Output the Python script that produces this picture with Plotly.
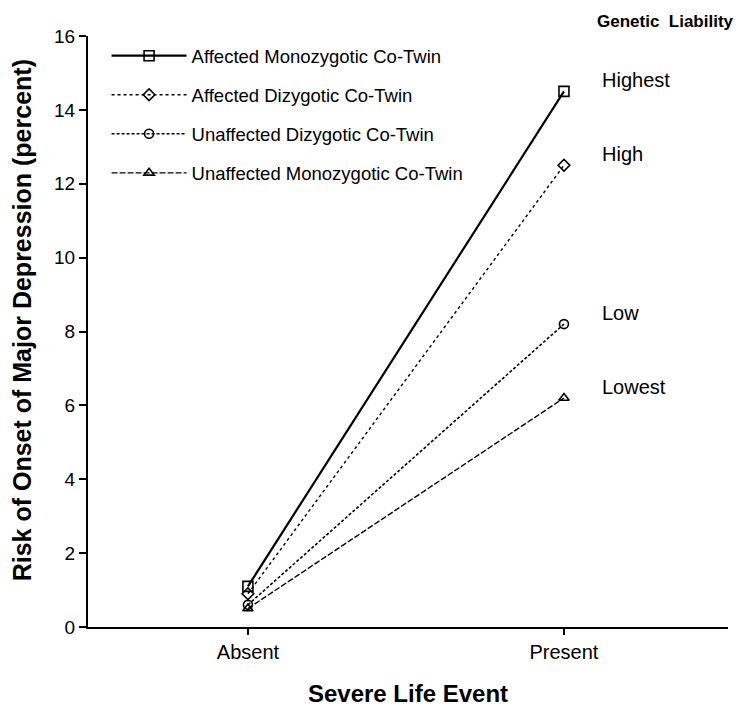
import plotly.graph_objects as go

# ---- data ----
categories = ["Absent", "Present"]
series_names = [
    "Affected Monozygotic Co-Twin",
    "Affected Dizygotic Co-Twin",
    "Unaffected Dizygotic Co-Twin",
    "Unaffected Monozygotic Co-Twin",
]
aff_mz = [1.1, 14.5]
aff_dz = [0.9, 12.5]
unaff_dz = [0.6, 8.2]
unaff_mz = [0.5, 6.2]
liability_labels = ["Highest", "High", "Low", "Lowest"]
y_ticks = [0, 2, 4, 6, 8, 10, 12, 14, 16]

series_values = [aff_mz, aff_dz, unaff_dz, unaff_mz]
symbols = ["square-open", "diamond-open", "circle-open", "triangle-up-open"]
dashes = ["solid", "dot", "3px,2px", "6px,2px"]
widths = [2.2, 1.4, 1.6, 1.4]
msizes = [10, 9, 9, 9]

FONT = "Liberation Sans, Arial, Helvetica, sans-serif"

fig = go.Figure()
for i, (name, vals) in enumerate(zip(series_names, series_values)):
    fig.add_trace(go.Scatter(
        x=categories, y=vals, name=name, mode="lines+markers",
        legendgroup=f"g{i}",
        line=dict(color="black", width=widths[i], dash=dashes[i]),
        marker=dict(symbol=symbols[i], size=msizes[i], color="black",
                    line=dict(color="black", width=1.6)),
    ))

for lab, vals in zip(liability_labels, series_values):
    fig.add_annotation(x=categories[1], y=vals[1], text=lab, showarrow=False,
                       xanchor="left", yanchor="middle", xshift=36, yshift=11,
                       font=dict(family=FONT, size=20, color="black"))

fig.add_annotation(x=1.013, y=1.025, xref="paper", yref="paper",
                   text="<b>Genetic  Liability</b>", showarrow=False,
                   xanchor="right", yanchor="middle",
                   font=dict(family=FONT, size=17, color="black"))

fig.add_annotation(x=-0.103, y=0.519, xref="paper", yref="paper",
                   text="<b>Risk of Onset of Major Depression (percent)</b>",
                   showarrow=False, textangle=-90,
                   xanchor="center", yanchor="middle",
                   font=dict(family=FONT, size=25, color="black"))

fig.update_layout(
    width=745, height=710,
    margin=dict(l=80, r=25, t=28, b=91),
    paper_bgcolor="white", plot_bgcolor="white",
    font=dict(family=FONT, color="black"),
    showlegend=True,
    legend=dict(x=0.029, y=0.998, xanchor="left", yanchor="top",
                font=dict(family=FONT, size=18.5, color="black"),
                itemwidth=75,
                tracegroupgap=12, bgcolor="rgba(0,0,0,0)"),
    xaxis=dict(
        type="category", range=[-0.506, 1.519],
        showline=True, linecolor="black", linewidth=2,
        ticks="outside", ticklen=6, tickwidth=1.5, tickcolor="black",
        showgrid=False, zeroline=False,
        tickfont=dict(family=FONT, size=20, color="black"),
        title=dict(text="<b>Severe Life Event</b>", standoff=23,
                   font=dict(family=FONT, size=24, color="black")),
    ),
    yaxis=dict(
        range=[0, 16], tickvals=y_ticks,
        showline=True, linecolor="black", linewidth=2,
        ticks="outside", ticklen=7, tickwidth=1.5, tickcolor="black",
        showgrid=False, zeroline=False,
        tickfont=dict(family=FONT, size=19, color="black"),
    ),
)

fig.write_html("out.html")
